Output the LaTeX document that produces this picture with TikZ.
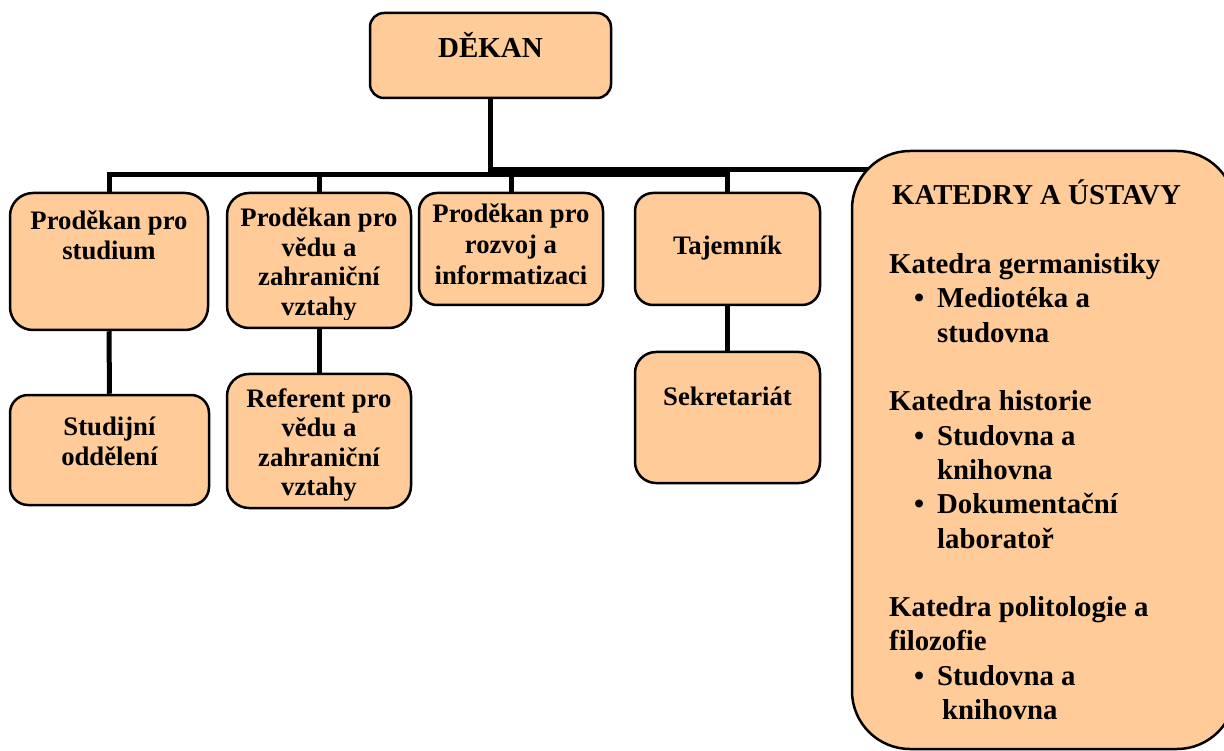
\documentclass[tikz,border=0pt]{standalone}
\usepackage{fontspec}
\setmainfont{Liberation Serif}
\usetikzlibrary{backgrounds}
\definecolor{peach}{HTML}{FFCC99}
\newcommand\katbul{\makebox[23pt][l]{\textbullet}}
\begin{document}
\begin{tikzpicture}[x=1pt,y=-1pt,
  box/.style={draw=black, line width=2.5pt, fill=peach, rounded corners=#1},
  box/.default=20pt,
  conn/.style={line width=5pt, draw=black},
  rowtxt/.style={font=\fontsize{26.7}{30}\selectfont\bfseries, anchor=base, inner sep=0pt},
  deantxt/.style={font=\fontsize{29}{34}\selectfont\bfseries, anchor=base, inner sep=0pt},
  kattxt/.style={font=\fontsize{28.8}{34}\selectfont\bfseries, anchor=base west, inner sep=0pt}]
\useasboundingbox (0,0) rectangle (1224,751);
\clip (0,0) rectangle (1224,751);

% boxes
\node[box=14pt, minimum width=241pt, minimum height=85pt] (dekan) at (490.5,55.5) {};
\node[box=23pt, minimum width=198pt, minimum height=137pt] (b1) at (109,261.5) {};
\node[box=22pt, minimum width=184pt, minimum height=135pt] (b2) at (319,260.5) {};
\node[box=18pt, minimum width=184pt, minimum height=112pt] (b3) at (511,249) {};
\node[box=18pt, minimum width=185pt, minimum height=112pt] (b4) at (727.5,249) {};
\node[box=18pt, minimum width=199pt, minimum height=110pt] (b5) at (109.5,450) {};
\node[box=22pt, minimum width=184pt, minimum height=134pt] (b6) at (319,441) {};
\node[box=21pt, minimum width=185pt, minimum height=131pt] (b7) at (727.5,417.5) {};
\node[box=58pt, minimum width=383pt, minimum height=598pt] (kat) at (1043.5,450) {};

% connectors
\coordinate (busA) at (0,175);
\coordinate (busB) at (885,170);
\begin{scope}[on background layer]
  \fill[white] (0,0) rectangle (1224,751);
  \draw[conn] (b1.north) -- (b1.north |- busA) -- (b4.north |- busA) -- (b4.north);
  \draw[conn] (b2.north) -- (b2.north |- busA);
  \draw[conn] (b3.north) -- (b3.north |- busA);
  \draw[conn] (dekan.south) -- (dekan.south |- busA);
  \draw[conn] (dekan.south |- busB) -- (busB);
  \draw[conn] (b1.south) -- (b5.north);
  \draw[conn] (b2.south) -- (b6.north);
  \draw[conn] (b4.south) -- (b7.north);
\end{scope}

% texts
\node[deantxt] (dt) at (490.5,58) {DĚKAN};
\foreach \t [count=\i from 0] in {Proděkan pro,studium}
  \node[rowtxt] (b1t\i) at (109,230+30*\i) {\t};
\begin{scope}
  \clip (227,190) rectangle (411,320);
  \foreach \t [count=\i from 0] in {Proděkan pro,vědu a,zahraniční,vztahy}
    \node[rowtxt] (b2t\i) at (319,227+29.5*\i) {\t};
\end{scope}
\foreach \t [count=\i from 0] in {Proděkan pro,rozvoj a,informatizaci}
  \node[rowtxt] (b3t\i) at (511,223+31*\i) {\t};
\node[rowtxt] (b4t0) at (727.5,255) {Tajemník};
\foreach \t [count=\i from 0] in {Studijní,oddělení}
  \node[rowtxt] (b5t\i) at (109.5,435+30*\i) {\t};
\begin{scope}
  \clip (227,370) rectangle (411,500);
  \foreach \t [count=\i from 0] in {Referent pro,vědu a,zahraniční,vztahy}
    \node[rowtxt] (b6t\i) at (319,407+29.5*\i) {\t};
\end{scope}
\node[rowtxt] (b7t0) at (727.5,405) {Sekretariát};

\node[kattxt] (k0) at (892,205) {KATEDRY A ÚSTAVY};
\node[kattxt] (k1) at (889,273.6) {Katedra germanistiky};
\node[kattxt] (k2) at (914,307.9) {\katbul Mediotéka a};
\node[kattxt] (k3) at (937,342.2) {studovna};
\node[kattxt] (k4) at (889,410.8) {Katedra historie};
\node[kattxt] (k5) at (914,445.1) {\katbul Studovna a};
\node[kattxt] (k6) at (937,479.4) {knihovna};
\node[kattxt] (k7) at (914,513.7) {\katbul Dokumentační};
\node[kattxt] (k8) at (937,548) {laboratoř};
\node[kattxt] (k9) at (889,616.6) {Katedra politologie a};
\node[kattxt] (k10) at (889,650.9) {filozofie};
\node[kattxt] (k11) at (914,685.2) {\katbul Studovna a};
\node[kattxt] (k12) at (942,719.5) {knihovna};
\end{tikzpicture}
\end{document}
